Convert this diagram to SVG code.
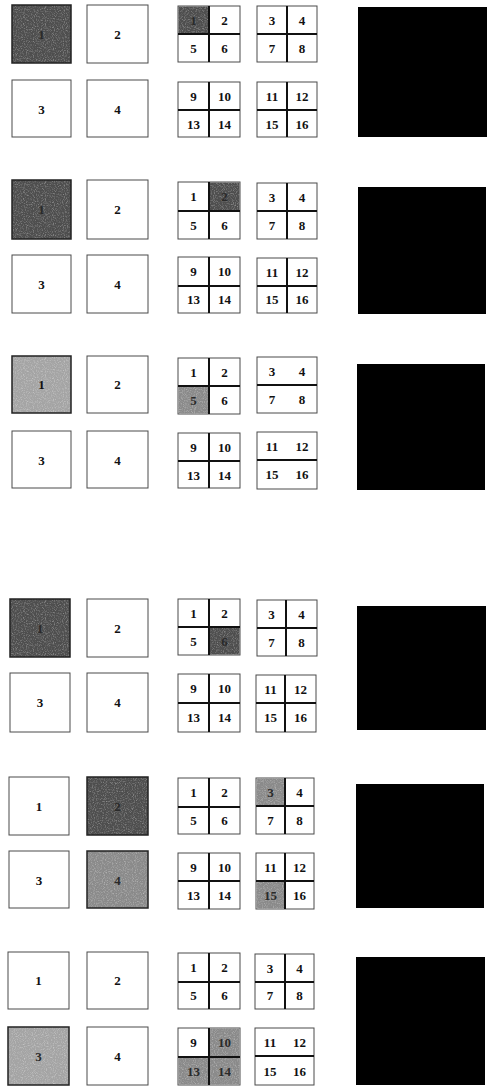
<svg xmlns="http://www.w3.org/2000/svg" width="488" height="1088" viewBox="0 0 488 1088">
<defs>
<filter id="grain" x="0" y="0" width="100%" height="100%" filterUnits="objectBoundingBox">
<feTurbulence type="fractalNoise" baseFrequency="0.9" numOctaves="2" seed="4" result="n"/>
<feColorMatrix in="n" type="matrix" values="0 0 0 0 1  0 0 0 0 1  0 0 0 0 1  1.6 0 0 0 -0.75" result="w"/>
<feComposite in="w" in2="SourceGraphic" operator="in"/>
</filter>
<style>
.bx{fill:#fff;stroke:#4a4a4a;stroke-width:1}
.dk{fill:#4e4e4e}
.md{fill:#8a8a8a}
.lt{fill:#a4a4a4}
.gr{fill:#fff;filter:url(#grain);opacity:0.55}
.sb{fill:none;stroke:#222;stroke-width:1.5}
.dv{stroke:#111;stroke-width:2}
.t{font-family:"Liberation Serif","DejaVu Serif",serif;font-size:13px;font-weight:bold;fill:#111;text-anchor:middle}
.td{fill:#2a2a2a}
.blk{fill:#000}
</style>
</defs>

<!-- ROW 1 -->
<g id="row1" transform="translate(0,5)">
<g id="r1-b1"><rect class="dk" x="12" y="0" width="59" height="58"/><rect class="gr" x="12" y="0" width="59" height="58"/><rect class="sb" x="12" y="0" width="59" height="58"/><text class="t td" x="41.5" y="33.5">1</text></g>
<g id="r1-b2"><rect class="bx" x="87" y="0" width="61" height="58"/><text class="t" x="117.5" y="33.5">2</text></g>
<g id="r1-b3"><rect class="bx" x="12" y="75" width="59" height="57"/><text class="t" x="41.5" y="108.5">3</text></g>
<g id="r1-b4"><rect class="bx" x="87" y="75" width="61" height="57"/><text class="t" x="117.5" y="108.5">4</text></g>
<g id="r1-g1"><rect class="bx" x="178" y="1" width="62" height="56"/><rect class="dk" x="178.5" y="1.5" width="30.5" height="27.5"/><rect class="gr" x="178.5" y="1.5" width="30.5" height="27.5"/><line class="dv" x1="209" y1="1" x2="209" y2="57"/><line class="dv" x1="178" y1="29" x2="240" y2="29"/><text class="t td" x="193.5" y="19.5">1</text><text class="t" x="224.5" y="19.5">2</text><text class="t" x="193.5" y="47.5">5</text><text class="t" x="224.5" y="47.5">6</text></g>
<g id="r1-g2"><rect class="bx" x="257" y="1" width="60" height="56"/><line class="dv" x1="287" y1="1" x2="287" y2="57"/><line class="dv" x1="257" y1="29" x2="317" y2="29"/><text class="t" x="272" y="19.5">3</text><text class="t" x="302" y="19.5">4</text><text class="t" x="272" y="47.5">7</text><text class="t" x="302" y="47.5">8</text></g>
<g id="r1-g3"><rect class="bx" x="178" y="77" width="62" height="55"/><line class="dv" x1="209" y1="77" x2="209" y2="132"/><line class="dv" x1="178" y1="105" x2="240" y2="105"/><text class="t" x="193.5" y="95.5">9</text><text class="t" x="224.5" y="95.5">10</text><text class="t" x="193.5" y="123.5">13</text><text class="t" x="224.5" y="123.5">14</text></g>
<g id="r1-g4"><rect class="bx" x="257" y="77" width="60" height="55"/><line class="dv" x1="287" y1="77" x2="287" y2="132"/><line class="dv" x1="257" y1="105" x2="317" y2="105"/><text class="t" x="272" y="95.5">11</text><text class="t" x="302" y="95.5">12</text><text class="t" x="272" y="123.5">15</text><text class="t" x="302" y="123.5">16</text></g>
<g id="r1-k"><rect class="blk" x="358" y="2" width="129" height="130"/></g>
</g>

<!-- ROW 2 -->
<g id="row2" transform="translate(0,180)">
<g id="r2-b1"><rect class="dk" x="12" y="0" width="59" height="59"/><rect class="gr" x="12" y="0" width="59" height="59"/><rect class="sb" x="12" y="0" width="59" height="59"/><text class="t td" x="41.5" y="33.5">1</text></g>
<g id="r2-b2"><rect class="bx" x="87" y="0" width="61" height="59"/><text class="t" x="117.5" y="33.5">2</text></g>
<g id="r2-b3"><rect class="bx" x="12" y="75" width="59" height="58"/><text class="t" x="41.5" y="108.5">3</text></g>
<g id="r2-b4"><rect class="bx" x="87" y="75" width="61" height="58"/><text class="t" x="117.5" y="108.5">4</text></g>
<g id="r2-g1"><rect class="bx" x="178" y="2" width="62" height="57"/><rect class="dk" x="209" y="2.5" width="30.5" height="28.5"/><rect class="gr" x="209" y="2.5" width="30.5" height="28.5"/><line class="dv" x1="209" y1="2" x2="209" y2="59"/><line class="dv" x1="178" y1="31" x2="240" y2="31"/><text class="t" x="193.5" y="21">1</text><text class="t td" x="224.5" y="21">2</text><text class="t" x="193.5" y="49.5">5</text><text class="t" x="224.5" y="49.5">6</text></g>
<g id="r2-g2"><rect class="bx" x="257" y="3" width="60" height="56"/><line class="dv" x1="287" y1="3" x2="287" y2="59"/><line class="dv" x1="257" y1="31" x2="317" y2="31"/><text class="t" x="272" y="21.5">3</text><text class="t" x="302" y="21.5">4</text><text class="t" x="272" y="49.5">7</text><text class="t" x="302" y="49.5">8</text></g>
<g id="r2-g3"><rect class="bx" x="178" y="77" width="62" height="56"/><line class="dv" x1="209" y1="77" x2="209" y2="133"/><line class="dv" x1="178" y1="106" x2="240" y2="106"/><text class="t" x="193.5" y="96">9</text><text class="t" x="224.5" y="96">10</text><text class="t" x="193.5" y="124">13</text><text class="t" x="224.5" y="124">14</text></g>
<g id="r2-g4"><rect class="bx" x="257" y="78" width="60" height="55"/><line class="dv" x1="287" y1="78" x2="287" y2="133"/><line class="dv" x1="257" y1="106" x2="317" y2="106"/><text class="t" x="272" y="96.5">11</text><text class="t" x="302" y="96.5">12</text><text class="t" x="272" y="124">15</text><text class="t" x="302" y="124">16</text></g>
<g id="r2-k"><rect class="blk" x="358" y="7" width="128" height="127"/></g>
</g>

<!-- ROW 3 -->
<g id="row3" transform="translate(0,356)">
<g id="r3-b1"><rect class="lt" x="12" y="0" width="59" height="57"/><rect class="gr" x="12" y="0" width="59" height="57"/><rect class="sb" x="12" y="0" width="59" height="57"/><text class="t" x="41.5" y="33">1</text></g>
<g id="r3-b2"><rect class="bx" x="87" y="0" width="61" height="57"/><text class="t" x="117.5" y="33">2</text></g>
<g id="r3-b3"><rect class="bx" x="12" y="75" width="59" height="57"/><text class="t" x="41.5" y="108.5">3</text></g>
<g id="r3-b4"><rect class="bx" x="87" y="75" width="61" height="57"/><text class="t" x="117.5" y="108.5">4</text></g>
<g id="r3-g1"><rect class="bx" x="178" y="2" width="62" height="56"/><rect class="md" x="178.5" y="30" width="30.5" height="27.5"/><rect class="gr" x="178.5" y="30" width="30.5" height="27.5"/><line class="dv" x1="209" y1="2" x2="209" y2="58"/><line class="dv" x1="178" y1="30" x2="240" y2="30"/><text class="t" x="193.5" y="20.5">1</text><text class="t" x="224.5" y="20.5">2</text><text class="t td" x="193.5" y="48.5">5</text><text class="t" x="224.5" y="48.5">6</text></g>
<g id="r3-g2"><rect class="bx" x="257" y="1" width="60" height="56"/><line class="dv" x1="257" y1="29" x2="317" y2="29"/><text class="t" x="272" y="19.5">3</text><text class="t" x="302" y="19.5">4</text><text class="t" x="272" y="47.5">7</text><text class="t" x="302" y="47.5">8</text></g>
<g id="r3-g3"><rect class="bx" x="178" y="77" width="62" height="55"/><line class="dv" x1="209" y1="77" x2="209" y2="132"/><line class="dv" x1="178" y1="105" x2="240" y2="105"/><text class="t" x="193.5" y="95.5">9</text><text class="t" x="224.5" y="95.5">10</text><text class="t" x="193.5" y="123.5">13</text><text class="t" x="224.5" y="123.5">14</text></g>
<g id="r3-g4"><rect class="bx" x="257" y="76" width="60" height="57"/><line class="dv" x1="257" y1="104" x2="317" y2="104"/><text class="t" x="272" y="94.5">11</text><text class="t" x="302" y="94.5">12</text><text class="t" x="272" y="123">15</text><text class="t" x="302" y="123">16</text></g>
<g id="r3-k"><rect class="blk" x="357" y="8" width="128" height="126"/></g>
</g>

<!-- ROW 4 -->
<g id="row4" transform="translate(0,599)">
<g id="r4-b1"><rect class="dk" x="10" y="0" width="60" height="58"/><rect class="gr" x="10" y="0" width="60" height="58"/><rect class="sb" x="10" y="0" width="60" height="58"/><text class="t td" x="40" y="33.5">1</text></g>
<g id="r4-b2"><rect class="bx" x="87" y="0" width="61" height="58"/><text class="t" x="117.5" y="33.5">2</text></g>
<g id="r4-b3"><rect class="bx" x="10" y="74" width="60" height="59"/><text class="t" x="40" y="108">3</text></g>
<g id="r4-b4"><rect class="bx" x="87" y="74" width="61" height="59"/><text class="t" x="117.5" y="108">4</text></g>
<g id="r4-g1"><rect class="bx" x="178" y="0" width="62" height="56"/><rect class="dk" x="209" y="28" width="30.5" height="27.5"/><rect class="gr" x="209" y="28" width="30.5" height="27.5"/><line class="dv" x1="209" y1="0" x2="209" y2="56"/><line class="dv" x1="178" y1="28" x2="240" y2="28"/><text class="t" x="193.5" y="18.5">1</text><text class="t" x="224.5" y="18.5">2</text><text class="t" x="193.5" y="46.5">5</text><text class="t td" x="224.5" y="46.5">6</text></g>
<g id="r4-g2"><rect class="bx" x="257" y="1" width="60" height="56"/><line class="dv" x1="286" y1="1" x2="286" y2="57"/><line class="dv" x1="257" y1="29" x2="317" y2="29"/><text class="t" x="271.5" y="19.5">3</text><text class="t" x="301.5" y="19.5">4</text><text class="t" x="271.5" y="47.5">7</text><text class="t" x="301.5" y="47.5">8</text></g>
<g id="r4-g3"><rect class="bx" x="178" y="75" width="62" height="58"/><line class="dv" x1="209" y1="75" x2="209" y2="133"/><line class="dv" x1="178" y1="104" x2="240" y2="104"/><text class="t" x="193.5" y="94">9</text><text class="t" x="224.5" y="94">10</text><text class="t" x="193.5" y="123">13</text><text class="t" x="224.5" y="123">14</text></g>
<g id="r4-g4"><rect class="bx" x="256" y="76" width="60" height="57"/><line class="dv" x1="285" y1="76" x2="285" y2="133"/><line class="dv" x1="256" y1="104" x2="316" y2="104"/><text class="t" x="270.5" y="94.5">11</text><text class="t" x="300.5" y="94.5">12</text><text class="t" x="270.5" y="123">15</text><text class="t" x="300.5" y="123">16</text></g>
<g id="r4-k"><rect class="blk" x="357" y="7" width="129" height="124"/></g>
</g>

<!-- ROW 5 -->
<g id="row5" transform="translate(0,777)">
<g id="r5-b1"><rect class="bx" x="9" y="0" width="60" height="58"/><text class="t" x="39" y="33.5">1</text></g>
<g id="r5-b2"><rect class="dk" x="87" y="0" width="61" height="58"/><rect class="gr" x="87" y="0" width="61" height="58"/><rect class="sb" x="87" y="0" width="61" height="58"/><text class="t td" x="117.5" y="33.5">2</text></g>
<g id="r5-b3"><rect class="bx" x="9" y="74" width="60" height="57"/><text class="t" x="39" y="107.5">3</text></g>
<g id="r5-b4"><rect class="md" x="87" y="74" width="61" height="57"/><rect class="gr" x="87" y="74" width="61" height="57"/><rect class="sb" x="87" y="74" width="61" height="57"/><text class="t td" x="117.5" y="107.5">4</text></g>
<g id="r5-g1"><rect class="bx" x="178" y="1" width="62" height="56"/><line class="dv" x1="209" y1="1" x2="209" y2="57"/><line class="dv" x1="178" y1="30" x2="240" y2="30"/><text class="t" x="193.5" y="20">1</text><text class="t" x="224.5" y="20">2</text><text class="t" x="193.5" y="48">5</text><text class="t" x="224.5" y="48">6</text></g>
<g id="r5-g2"><rect class="bx" x="256" y="1" width="58" height="56"/><rect class="md" x="256.5" y="1.5" width="28.5" height="27.5"/><rect class="gr" x="256.5" y="1.5" width="28.5" height="27.5"/><line class="dv" x1="285" y1="1" x2="285" y2="57"/><line class="dv" x1="256" y1="29" x2="314" y2="29"/><text class="t td" x="270.5" y="19.5">3</text><text class="t" x="299.5" y="19.5">4</text><text class="t" x="270.5" y="47.5">7</text><text class="t" x="299.5" y="47.5">8</text></g>
<g id="r5-g3"><rect class="bx" x="178" y="76" width="62" height="56"/><line class="dv" x1="209" y1="76" x2="209" y2="132"/><line class="dv" x1="178" y1="104" x2="240" y2="104"/><text class="t" x="193.5" y="94.5">9</text><text class="t" x="224.5" y="94.5">10</text><text class="t" x="193.5" y="122.5">13</text><text class="t" x="224.5" y="122.5">14</text></g>
<g id="r5-g4"><rect class="bx" x="256" y="76" width="58" height="56"/><rect class="md" x="256.5" y="104" width="28.5" height="27.5"/><rect class="gr" x="256.5" y="104" width="28.5" height="27.5"/><line class="dv" x1="285" y1="76" x2="285" y2="132"/><line class="dv" x1="256" y1="104" x2="314" y2="104"/><text class="t" x="270.5" y="94.5">11</text><text class="t" x="299.5" y="94.5">12</text><text class="t td" x="270.5" y="122.5">15</text><text class="t" x="299.5" y="122.5">16</text></g>
<g id="r5-k"><rect class="blk" x="356" y="7" width="128" height="124"/></g>
</g>

<!-- ROW 6 -->
<g id="row6" transform="translate(0,952)">
<g id="r6-b1"><rect class="bx" x="8" y="0" width="61" height="57"/><text class="t" x="38.5" y="33">1</text></g>
<g id="r6-b2"><rect class="bx" x="87" y="0" width="61" height="57"/><text class="t" x="117.5" y="33">2</text></g>
<g id="r6-b3"><rect class="lt" x="8" y="75" width="61" height="58"/><rect class="gr" x="8" y="75" width="61" height="58"/><rect class="sb" x="8" y="75" width="61" height="58"/><text class="t td" x="38.5" y="108.5">3</text></g>
<g id="r6-b4"><rect class="bx" x="87" y="75" width="61" height="58"/><text class="t" x="117.5" y="108.5">4</text></g>
<g id="r6-g1"><rect class="bx" x="178" y="1" width="62" height="56"/><line class="dv" x1="209" y1="1" x2="209" y2="57"/><line class="dv" x1="178" y1="30" x2="240" y2="30"/><text class="t" x="193.5" y="20">1</text><text class="t" x="224.5" y="20">2</text><text class="t" x="193.5" y="48">5</text><text class="t" x="224.5" y="48">6</text></g>
<g id="r6-g2"><rect class="bx" x="255" y="2" width="59" height="55"/><line class="dv" x1="285" y1="2" x2="285" y2="57"/><line class="dv" x1="255" y1="30" x2="314" y2="30"/><text class="t" x="270" y="20.5">3</text><text class="t" x="299.5" y="20.5">4</text><text class="t" x="270" y="48">7</text><text class="t" x="299.5" y="48">8</text></g>
<g id="r6-g3"><rect class="bx" x="178" y="76" width="62" height="57"/><rect class="md" x="209" y="76.5" width="30.5" height="28.5"/><rect class="gr" x="209" y="76.5" width="30.5" height="28.5"/><rect class="md" x="178.5" y="105" width="61" height="27.5"/><rect class="gr" x="178.5" y="105" width="61" height="27.5"/><line class="dv" x1="209" y1="76" x2="209" y2="133"/><line class="dv" x1="178" y1="105" x2="240" y2="105"/><text class="t" x="193.5" y="95">9</text><text class="t td" x="224.5" y="95">10</text><text class="t td" x="193.5" y="123.5">13</text><text class="t td" x="224.5" y="123.5">14</text></g>
<g id="r6-g4"><rect class="bx" x="255" y="76" width="59" height="57"/><line class="dv" x1="255" y1="104" x2="314" y2="104"/><text class="t" x="270" y="95">11</text><text class="t" x="299.5" y="95">12</text><text class="t" x="270" y="123.5">15</text><text class="t" x="299.5" y="123.5">16</text></g>
<g id="r6-k"><rect class="blk" x="356" y="5" width="129" height="128"/></g>
</g>
</svg>
